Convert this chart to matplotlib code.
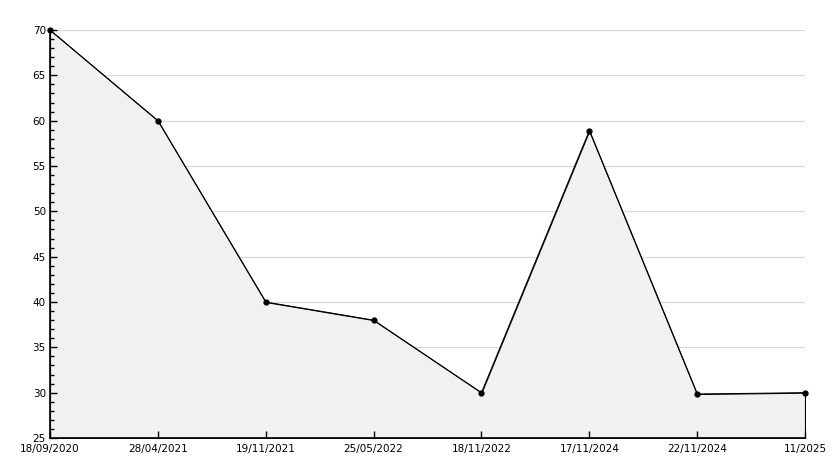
import matplotlib
matplotlib.use("Agg")
import matplotlib.pyplot as plt
from matplotlib.ticker import MultipleLocator

dates = ["18/09/2020", "28/04/2021", "19/11/2021", "25/05/2022",
         "18/11/2022", "17/11/2024", "22/11/2024", "11/2025"]
values = [70, 60, 40, 38, 30, 58.9, 29.85, 30]
ymin, ymax = 25, 70

fig = plt.figure(figsize=(8.34, 4.68), dpi=100)
ax = fig.add_axes([50/834, 30/468, 755/834, 408/468])
xs = list(range(len(values)))

ax.set_xlim(0, len(values) - 1)
ax.set_ylim(ymin, ymax)
ax.yaxis.set_major_locator(MultipleLocator(5))
ax.yaxis.set_minor_locator(MultipleLocator(1))

# grid under the fill, ticks above it
for y in ax.get_yticks():
    if ymin < y <= ymax:
        ax.axhline(y, color="#d9d9d9", lw=0.9, zorder=0.1)

ax.fill_between(xs, values, ymin, facecolor="#f1f1f1", edgecolor="black", lw=0.8, zorder=1)
ax.plot(xs, values, color="black", lw=0.7, marker="o", ms=3.5, zorder=3, clip_on=False)

ax.set_xticks(xs)
ax.set_xticklabels(dates)
for s in ["top", "right"]:
    ax.spines[s].set_visible(False)
for s in ["left", "bottom"]:
    ax.spines[s].set_linewidth(1.2)
    ax.spines[s].set_zorder(4)
ax.tick_params(axis="both", which="major", direction="in", length=5, width=1, labelsize=7.5, pad=3, zorder=4)
ax.tick_params(axis="y", which="minor", direction="in", length=3, width=1)
ax.tick_params(axis="x", pad=4)

fig.savefig("out.png", dpi=100)
